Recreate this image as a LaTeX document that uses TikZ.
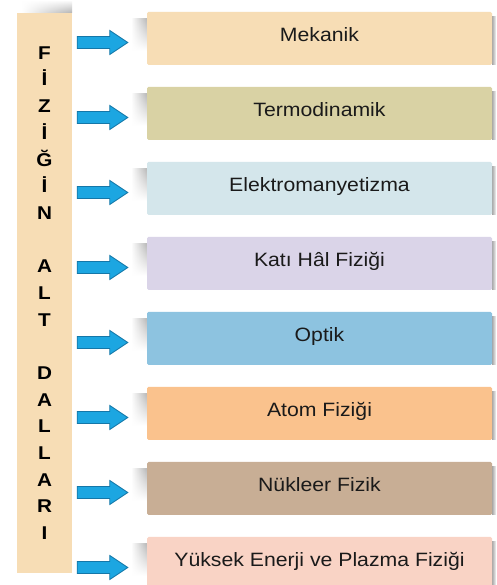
\documentclass[tikz,border=0pt]{standalone}
\usepackage{fontspec}
\setmainfont{Liberation Sans}
\newfontfamily\boxfont[FakeStretch=1.1]{Liberation Sans}
\newfontfamily\barfont[FakeStretch=1.12]{Liberation Sans}
\usetikzlibrary{fadings,calc}
\definecolor{cMek}{HTML}{F7DDB5}
\definecolor{cTer}{HTML}{D9D2A4}
\definecolor{cEle}{HTML}{D4E6EB}
\definecolor{cKat}{HTML}{DAD4E8}
\definecolor{cOpt}{HTML}{8DC3E0}
\definecolor{cAto}{HTML}{FAC28D}
\definecolor{cNuk}{HTML}{C8AE95}
\definecolor{cYuk}{HTML}{F9D3C5}
\definecolor{cArr}{HTML}{1CA6E1}
\definecolor{cArrD}{HTML}{1477A8}
\definecolor{txt}{HTML}{1A1A1A}
\begin{document}
\begin{tikzpicture}[x=1pt,y=1pt,
  branch/.style={draw=none, fill=#1, rounded corners=1.5pt, minimum width=345pt,
    minimum height=53pt, inner sep=0pt, text=txt,
    font=\boxfont\fontsize{19.3}{22}\selectfont, text height=13pt, text depth=6.5pt},
  sidebar/.style={draw=none, fill=cMek, minimum width=55pt, minimum height=560pt,
    inner sep=0pt, align=center, text=black,
    font=\barfont\bfseries\fontsize{18.5}{26.67}\selectfont},
  barrow/.style={fill=cArr, draw=cArrD, line width=0.8pt, line join=miter},
  edgeshade/.style={left color=gray!70, right color=white},
  leftshade/.style={left color=white, right color=gray!60, path fading=south}
]
\useasboundingbox (0,0) rectangle (496,585);
\clip (0,0) rectangle (496,585);
\fill[white] (0,0) rectangle (496,585);

% shadow above the side bar
\shade[top color=white, bottom color=gray!60, path fading=west] (22,572) rectangle (72,585);
\node[sidebar] (bar) at (44.5,292) {F\\İ\\Z\\İ\\Ğ\\İ\\N\\~\\A\\L\\T\\~\\D\\A\\L\\L\\A\\R\\I};

\foreach \yy in {546.5,471.5,396.5,321.5,246.5,171.5,96.5,21.5}{
  \shade[edgeshade] (492,\yy+22) rectangle (496.5,\yy-26.5);
  \shade[leftshade] (131,\yy+20) rectangle (148,\yy-12);
}

\node[branch=cMek] (b1) at (319.5,546.5) {Mekanik};
\node[branch=cTer] (b2) at (319.5,471.5) {Termodinamik};
\node[branch=cEle] (b3) at (319.5,396.5) {Elektromanyetizma};
\node[branch=cKat] (b4) at (319.5,321.5) {Katı Hâl Fiziği};
\node[branch=cOpt] (b5) at (319.5,246.5) {Optik};
\node[branch=cAto] (b6) at (319.5,171.5) {Atom Fiziği};
\node[branch=cNuk] (b7) at (319.5,96.5) {Nükleer Fizik};
\node[branch=cYuk] (b8) at (319.5,21.5) {Yüksek Enerji ve Plazma Fiziği};

\foreach \bx in {b1,b2,b3,b4,b5,b6,b7,b8}{
  \draw[barrow] let \p1=(\bx.west), \p2=(bar.east) in
    (\x2+5pt,\y1-10pt) -- (\x1-37pt,\y1-10pt) -- (\x1-37pt,\y1-16pt) --
    (\x1-19pt,\y1-4pt) -- (\x1-37pt,\y1+8pt) -- (\x1-37pt,\y1+2pt) --
    (\x2+5pt,\y1+2pt) -- cycle;
}
\end{tikzpicture}
\end{document}
